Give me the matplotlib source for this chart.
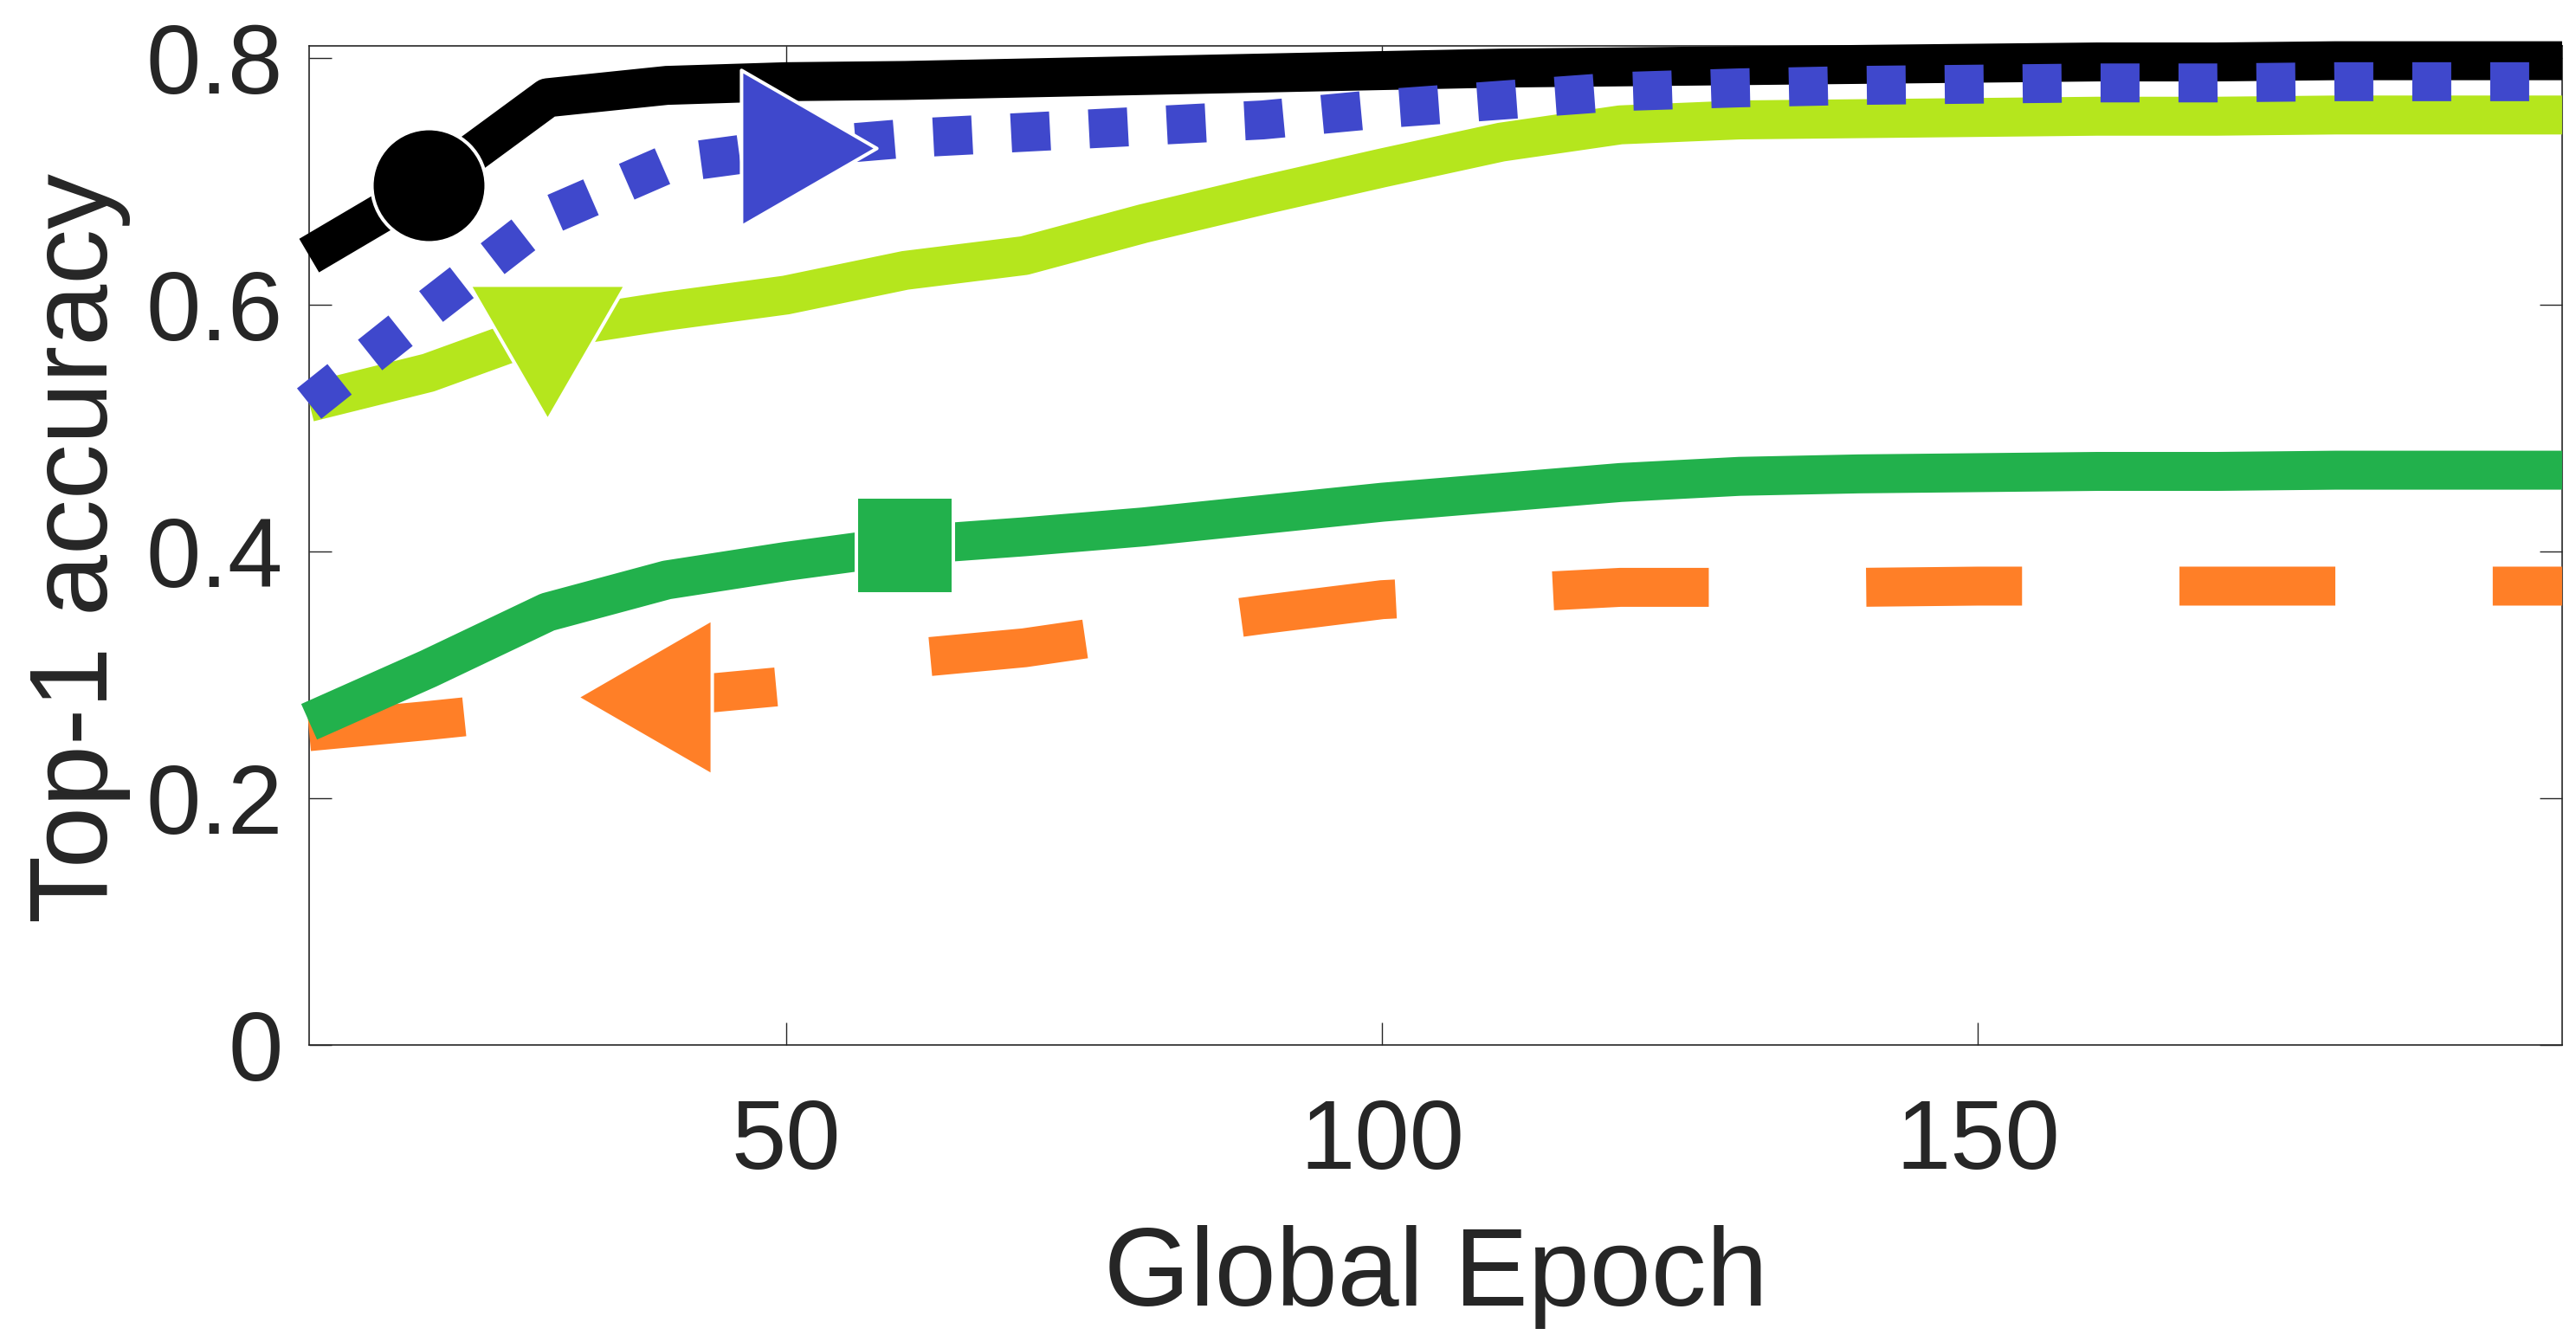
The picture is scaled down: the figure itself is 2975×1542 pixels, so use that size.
import matplotlib
matplotlib.use('Agg')
import matplotlib.pyplot as plt
from matplotlib.path import Path

# ---------------- data ----------------
epochs = [10, 20, 30, 40, 50, 60, 70, 80, 90, 100, 110, 120, 130, 140, 150, 160, 170, 180, 190, 199]

acc_black = [0.640, 0.697, 0.768, 0.778, 0.781, 0.782, 0.784, 0.786, 0.788, 0.790,
             0.792, 0.793, 0.794, 0.795, 0.796, 0.797, 0.797, 0.798, 0.798, 0.798]
acc_blue = [0.520, 0.597, 0.672, 0.714, 0.727, 0.735, 0.740, 0.745, 0.750, 0.759,
            0.766, 0.773, 0.776, 0.778, 0.779, 0.780, 0.780, 0.781, 0.781, 0.781]
acc_lime = [0.521, 0.545, 0.580, 0.595, 0.608, 0.628, 0.640, 0.666, 0.689, 0.711,
            0.732, 0.746, 0.750, 0.751, 0.752, 0.753, 0.753, 0.754, 0.754, 0.754]
acc_green = [0.262, 0.305, 0.351, 0.377, 0.392, 0.405, 0.412, 0.420, 0.430, 0.440,
             0.448, 0.456, 0.461, 0.463, 0.464, 0.465, 0.465, 0.466, 0.466, 0.466]
acc_orange = [0.254, 0.263, 0.273, 0.282, 0.291, 0.313, 0.322, 0.336, 0.349, 0.361,
              0.366, 0.371, 0.371, 0.371, 0.372, 0.372, 0.372, 0.372, 0.372, 0.372]

x_ticks = [50, 100, 150]
y_ticks = [0, 0.2, 0.4, 0.6, 0.8]
y_ticklabels = ['0', '0.2', '0.4', '0.6', '0.8']
x_label = 'Global Epoch'
y_label = 'Top-1 accuracy'

# ---------------- style ----------------
plt.rcParams['font.family'] = ['Liberation Sans', 'DejaVu Sans']
TXT = '#262626'
LW = 32.4

def tri(direction):
    a, t = 0.5774, 1.1547
    if direction == 'right':
        v = [(-a, 1), (-a, -1), (t, 0)]
    elif direction == 'left':
        v = [(a, 1), (a, -1), (-t, 0)]
    else:  # down
        v = [(-1, a), (1, a), (0, -t)]
    return Path(v + [(0, 0)], [Path.MOVETO, Path.LINETO, Path.LINETO, Path.CLOSEPOLY])

TRI_MS = 150

series = [
    # values, color, dashes, marker, marker size, marker index, zorder
    (acc_orange, '#FF7F27', (4, 4.04), tri('left'), TRI_MS, 3, 2.0),
    (acc_green, '#22B14C', None, 's', 81, 5, 2.1),
    (acc_lime, '#B5E61D', None, tri('down'), TRI_MS, 2, 2.2),
    (acc_black, '#000000', None, 'o', 95, 1, 2.3),
    (acc_blue, '#3F48CC', (1, 1), tri('right'), TRI_MS, 4, 2.4),
]

fig = plt.figure(figsize=(29.75, 15.42), dpi=100)
ax = fig.add_axes([0.1200, 0.2173, 0.8746, 0.7483])

for vals, col, dashes, mk, ms, mi, z in series:
    ln, = ax.plot(epochs, vals, color=col, lw=LW, solid_capstyle='butt',
                  dash_capstyle='butt', solid_joinstyle='round', dash_joinstyle='round',
                  zorder=z, clip_on=False)
    if dashes is not None:
        ln.set_dashes(dashes)
    ax.plot([epochs[mi]], [vals[mi]], linestyle='none', marker=mk, markersize=ms,
            markerfacecolor=col, markeredgecolor='white', markeredgewidth=2.9,
            zorder=z + 2, clip_on=False)

ax.set_xlim(10, 199)
ax.set_ylim(0, 0.81)
ax.set_xticks(x_ticks)
ax.set_xticklabels([str(t) for t in x_ticks])
ax.set_yticks(y_ticks)
ax.set_yticklabels(y_ticklabels)

for s in ax.spines.values():
    s.set_color(TXT)
    s.set_linewidth(1.2)
    s.set_zorder(1.5)

ax.tick_params(axis='both', which='both', direction='in', length=18.7, width=1.0,
               colors=TXT, labelsize=82, top=True, right=True)
ax.tick_params(axis='x', pad=44)
ax.tick_params(axis='y', pad=22)

ax.set_xlabel(x_label, fontsize=92, color=TXT)
ax.set_ylabel(y_label, fontsize=92, color=TXT)
ax.xaxis.set_label_coords(0.5, -0.18)
ax.yaxis.set_label_coords(-0.079, 0.497)

fig.savefig('out.png', dpi=100, facecolor='white')
